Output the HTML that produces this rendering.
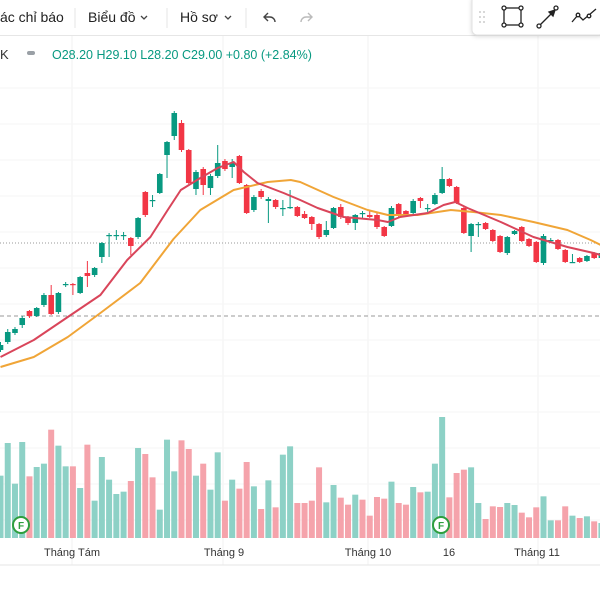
<!DOCTYPE html>
<html><head><meta charset="utf-8"><style>
html,body{margin:0;padding:0;background:#fff;width:600px;height:600px;overflow:hidden;font-family:"Liberation Sans","Noto Sans CJK SC",sans-serif}
svg{position:absolute;left:0;top:0}
</style></head><body>
<svg id="chart" width="600" height="600" viewBox="0 0 600 600">
 <rect x="0" y="0" width="600" height="600" fill="#fff"/>
 <g id="grid"></g>
 <line x1="0" y1="243" x2="600" y2="243" stroke="#9a9a9a" stroke-width="1" stroke-dasharray="1,2"/>
 <line x1="0" y1="316" x2="600" y2="316" stroke="#9a9a9a" stroke-width="1" stroke-dasharray="4,3"/>
 <g id="vol"></g>
 <g id="candles"></g>
 <g id="mas"></g>
 <g><circle cx="21" cy="525" r="8" fill="#fff" stroke="#2e9e3e" stroke-width="2"/><text x="21" y="529" font-size="10" font-weight="bold" text-anchor="middle" fill="#2e9e3e">F</text></g>
 <g><circle cx="441" cy="525" r="8" fill="#fff" stroke="#2e9e3e" stroke-width="2"/><text x="441" y="529" font-size="10" font-weight="bold" text-anchor="middle" fill="#2e9e3e">F</text></g>
 <line x1="0" y1="565" x2="600" y2="565" stroke="#e6e6e6"/>
 <g font-size="11" fill="#333">
  <text x="72" y="556" text-anchor="middle">Tháng Tám</text>
  <text x="224" y="556" text-anchor="middle">Tháng 9</text>
  <text x="368" y="556" text-anchor="middle">Tháng 10</text>
  <text x="449" y="556" text-anchor="middle">16</text>
  <text x="537" y="556" text-anchor="middle">Tháng 11</text>
 </g>
 <g>
  <text x="0" y="59" font-size="13" fill="#333">K</text>
  <rect x="27" y="51" width="8" height="4" rx="2" fill="#9aa0a6"/>
  <text x="52" y="59" font-size="12.5" fill="#089981">O28.20 H29.10 L28.20 C29.00 +0.80 (+2.84%)</text>
 </g>
 <g>
  <rect x="0" y="0" width="600" height="35" fill="#fff"/>
  <line x1="0" y1="35.5" x2="600" y2="35.5" stroke="#e6e6e6"/>
  <text x="0" y="22" font-size="14" fill="#222">ác chỉ báo</text>
  <line x1="75" y1="8" x2="75" y2="28" stroke="#e6e6e6"/>
  <text x="88" y="22" font-size="14" fill="#222">Biểu đồ</text>
  <path d="M141 16 l3 3 l3 -3" fill="none" stroke="#444" stroke-width="1.3"/>
  <line x1="167" y1="8" x2="167" y2="28" stroke="#e6e6e6"/>
  <text x="180" y="22" font-size="14" fill="#222">Hồ sơ</text>
  <path d="M225 16 l3 3 l3 -3" fill="none" stroke="#444" stroke-width="1.3"/>
  <line x1="246" y1="8" x2="246" y2="28" stroke="#e6e6e6"/>
  <path d="M268 13 l-4 4 l4 4 M264 17 h6 a5 5 0 0 1 5 5" fill="none" stroke="#444" stroke-width="1.4"/>
  <path d="M308 13 l4 4 l-4 4 M312 17 h-6 a5 5 0 0 0 -5 5" fill="none" stroke="#bbb" stroke-width="1.4"/>
 </g>
 <g>
  <rect x="472" y="-4" width="132" height="39" rx="5" fill="#fff" stroke="#e2e2e2" style="filter:drop-shadow(0 1px 2px rgba(0,0,0,0.15))"/>
  <g fill="#ccc"><circle cx="480" cy="12" r="1"/><circle cx="484" cy="12" r="1"/><circle cx="480" cy="17" r="1"/><circle cx="484" cy="17" r="1"/><circle cx="480" cy="22" r="1"/><circle cx="484" cy="22" r="1"/></g>
  <g fill="#fff" stroke="#222" stroke-width="1.3"><rect x="504" y="8" width="17" height="17" fill="none"/><circle cx="504" cy="8" r="2"/><circle cx="521" cy="8" r="2"/><circle cx="504" cy="25" r="2"/><circle cx="521" cy="25" r="2"/></g>
  <g fill="#fff" stroke="#222" stroke-width="1.3"><line x1="540" y1="25" x2="554" y2="11"/><path d="M549 12 l6 -2 l-2 6 z" fill="#222"/><circle cx="539" cy="26" r="2"/><circle cx="556" cy="8" r="2"/></g>
  <g fill="#fff" stroke="#222" stroke-width="1.3"><path d="M572 22 l6 -7 l5 5 l6 -5 l7 -6" fill="none"/><circle cx="578" cy="15" r="1.8"/><circle cx="589" cy="16" r="1.8"/></g>
 </g>
</svg>
<script>
const candleOpen=[19.7,20.5,21.4,22.2,23.6,23.1,24.2,25.2,23.5,26.2,26.3,25.4,27.4,27.2,29.0,31.1,31.2,31.1,30.9,31.0,35.5,34.7,35.4,39.2,41.1,42.4,39.7,35.8,37.8,35.9,37.1,38.6,38.0,39.1,36.2,33.7,35.6,34.6,34.7,33.9,33.9,34.0,33.3,33.0,32.3,31.2,31.9,34.0,33.0,32.4,33.4,33.2,33.2,32.0,32.1,34.3,33.6,33.4,34.9,33.9,34.3,35.4,36.8,36.0,33.9,31.1,32.3,32.4,31.7,31.1,29.4,31.3,32.0,30.8,30.5,28.4,30.7,30.7,29.7,28.5,28.9,28.6,29.4,28.9];
const candleHigh=[20.5,21.8,22.0,23.1,23.7,24.0,25.4,26.2,25.5,26.5,26.4,27.1,28.6,28.0,30.5,31.4,31.7,31.5,31.0,33.0,35.6,35.2,37.4,40.6,43.6,42.7,39.8,37.7,38.0,37.3,40.2,38.8,38.8,39.2,36.3,35.2,35.8,35.0,34.8,34.7,35.7,34.1,33.6,33.1,32.4,32.6,34.0,34.3,33.1,33.3,33.6,33.7,33.4,32.1,34.1,34.4,33.7,34.8,35.0,34.3,35.4,38.0,36.9,36.1,34.0,32.4,32.5,32.5,31.8,31.2,31.1,31.7,32.1,30.9,30.6,31.3,30.9,30.8,29.8,29.3,29.0,29.2,29.5,29.6];
const candleLow=[19.5,20.3,21.2,21.9,22.9,23.0,24.0,23.2,23.3,26.0,25.2,25.3,26.0,27.0,28.4,29.0,30.7,30.7,29.2,30.8,33.0,34.0,35.3,36.9,40.7,39.5,36.3,35.2,35.2,35.2,36.9,37.6,36.9,36.3,33.3,33.5,34.8,32.4,33.8,33.1,33.8,33.0,32.8,31.7,30.8,31.0,31.8,32.8,32.2,31.7,32.8,32.9,31.8,31.0,32.0,33.0,33.1,33.3,33.9,33.5,34.2,35.3,36.0,34.3,31.3,29.5,31.0,31.7,30.5,29.4,29.2,31.2,30.5,30.0,28.4,28.2,30.5,29.7,28.4,28.4,28.4,28.5,28.8,28.8];
const candleClose=[20.2,21.5,21.8,22.9,23.1,23.9,25.2,23.3,25.4,26.3,26.2,27.0,27.1,27.9,30.4,31.2,31.2,31.2,30.1,32.9,33.2,34.7,37.3,40.5,43.4,39.7,36.4,37.5,36.2,37.1,38.4,37.8,38.4,36.4,33.4,35.0,35.0,34.8,34.0,33.9,34.0,33.1,32.9,32.3,31.0,31.7,33.9,33.0,32.4,33.2,33.4,33.0,32.0,31.1,33.9,33.1,33.2,34.6,34.6,33.9,35.2,36.8,36.1,34.4,31.4,32.3,32.3,31.8,30.6,29.5,31.0,31.6,30.6,30.1,28.5,31.1,30.7,29.8,28.5,28.5,28.5,29.1,28.9,29.4];
const volumes=[187,285,163,288,185,213,223,325,277,215,215,150,280,112,243,175,132,139,171,270,252,182,85,295,200,293,267,187,223,145,257,112,175,148,228,155,87,173,92,250,275,105,105,112,212,107,159,121,100,130,115,67,123,118,169,105,100,153,137,139,223,363,122,195,205,212,105,57,95,93,105,99,76,62,92,125,53,53,95,67,60,65,50,45];
const volUp=[1,1,1,1,0,1,1,0,1,1,0,1,0,1,1,1,1,1,0,1,0,0,1,1,1,0,0,1,0,1,1,0,1,0,0,1,0,1,0,1,1,0,0,0,0,1,1,0,0,1,0,0,0,0,1,0,0,1,0,1,1,1,0,0,0,1,1,0,0,0,1,1,0,0,0,1,1,0,0,1,0,1,0,1];
const maFastIdx=[0,4.6,9.3,13.8,17.5,20.7,23.1,24.9,27.6,30,32.2,33.6,35.5,39.1,41.4,43.8,47.4,52.1,53.5,55.2,59,61.2,62.8,64.5,69.1,73.6,78.3,81.9,82.9];
const maFast=[19.0,20.7,23.0,25.2,28.7,31.0,33.7,35.7,36.9,37.9,38.5,37.5,36.4,35.4,34.7,33.9,33.0,32.7,32.5,33.0,33.4,34.2,34.5,33.9,32.5,31.0,30.0,29.4,29.2];
const maSlowIdx=[0,4.6,9.3,13.8,19.3,23.9,27.6,32.2,36.9,40.1,41.4,46,50.7,53.5,57.6,62.2,65.3,69.1,73.6,78.3,81.5,82.9];
const maSlow=[18.0,19.0,21.0,23.4,26.4,30.8,33.7,35.7,36.5,36.7,36.5,35.0,33.7,33.2,33.2,33.7,33.5,33.2,32.5,31.7,30.7,30.2];
const gridX=[72,223,368,538];

const NS='http://www.w3.org/2000/svg';
function xScale(i){return 0.5+7.24*i;}
function yScale(p){return 547-10*p;}
function vScale(v){return 538-v/3;}
function mk(tag,attrs,parent){const e=document.createElementNS(NS,tag);for(const k in attrs)e.setAttribute(k,attrs[k]);parent.appendChild(e);return e;}

const grid=document.getElementById('grid');
gridX.forEach(x=>{const l=mk('line',{x1:x,y1:36,x2:x,y2:565,stroke:'#f2f2f2'},grid);

});
for(let y=88;y<540;y+=36){const l=mk('line',{x1:0,y1:y,x2:600,y2:y,stroke:'#f5f5f5'},grid);

}

const vol=document.getElementById('vol');
volumes.forEach((v,i)=>{const y=vScale(v);const r=mk('rect',{x:xScale(i)-3,y:y,width:6,height:538-y,fill:volUp[i]?'#8dd1c6':'#f5a3ab'},vol);

});

const cg=document.getElementById('candles');
candleOpen.forEach((o,i)=>{const c=candleClose[i],up=c>=o,col=up?'#089981':'#f23645';const x=xScale(i);
const g=mk('g',{},cg);


mk('line',{x1:x,y1:yScale(candleHigh[i]),x2:x,y2:yScale(candleLow[i]),stroke:col,'stroke-width':1},g);
const top=yScale(Math.max(o,c)),bot=yScale(Math.min(o,c));
mk('rect',{x:x-2.8,y:top,width:5.6,height:Math.max(1.2,bot-top),fill:col},g);});

const mg=document.getElementById('mas');
function line(idx,vals,col,name){const d=idx.map((t,k)=>(k?'L':'M')+xScale(t).toFixed(1)+' '+yScale(vals[k]).toFixed(1)).join(' ');
const p=mk('path',{d:d,fill:'none',stroke:col,'stroke-width':2,'stroke-linejoin':'round'},mg);

}
line(maSlowIdx,maSlow,'#f0a537','ma-slow-line');
line(maFastIdx,maFast,'#d9455a','ma-fast-line');
</script>
</body></html>
